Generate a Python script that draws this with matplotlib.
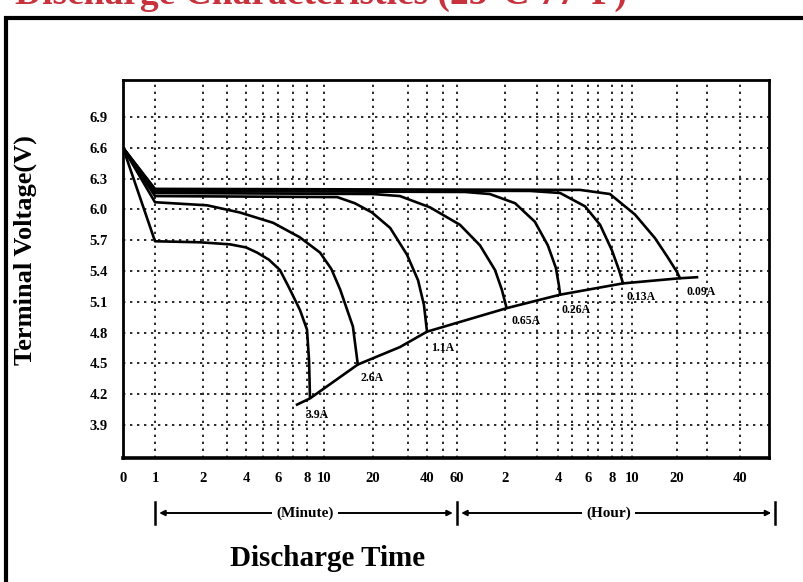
import numpy as np
import matplotlib
matplotlib.use('Agg')
import matplotlib.pyplot as plt
from matplotlib.patches import Rectangle
from matplotlib.transforms import blended_transform_factory

SERIF = 'Liberation Serif'

# hand-drawn time axis of the original: minutes -> position along the axis
scale_min = [0, 1, 2, 3, 4, 5, 6, 7, 8, 10, 20, 30, 40, 50, 60, 120, 180, 240,
             300, 360, 420, 480, 540, 600, 1200, 1800, 2400, 2900]
scale_pos = [0, 32, 80, 104, 123, 140, 155, 170, 184, 201, 250, 285, 304, 320,
             334, 382, 414, 435, 449, 465, 475, 489, 499, 509, 554, 584, 617, 646]

# tick labels (minutes first, then hours)
tick_min = [0, 1, 2, 4, 6, 8, 10, 20, 40, 60, 120, 240, 360, 480, 600, 1200, 2400]
tick_lbl = ['0', '1', '2', '4', '6', '8', '10', '20', '40', '60',
            '2', '4', '6', '8', '10', '20', '40']
grid_min = [1, 2, 3, 4, 5, 6, 7, 8, 10, 20, 30, 40, 50, 60, 120, 180, 240, 300,
            360, 420, 480, 540, 600, 1200, 1800, 2400]
volt_ticks = [3.9, 4.2, 4.5, 4.8, 5.1, 5.4, 5.7, 6.0, 6.3, 6.6, 6.9]

# discharge curves: time (min) / terminal voltage (V)
currents = ['3.9A', '2.6A', '1.1A', '0.65A', '0.26A', '0.13A', '0.09A']

t_39 = [0, 1, 1.94, 3.16, 4.0, 4.65, 5.4, 6.13, 6.8, 7.5, 8.0, 8.24, 8.35]
v_39 = [6.6, 5.69, 5.68, 5.66, 5.63, 5.58, 5.51, 5.41, 5.22, 5.02, 4.83, 4.53, 4.17]

t_26 = [0, 1, 2.17, 3.68, 5.67, 7.47, 9.53, 11.5, 13.3, 15.9, 16.9]
v_26 = [6.6, 6.07, 6.04, 5.97, 5.87, 5.73, 5.58, 5.42, 5.22, 4.86, 4.49]

t_11 = [0, 1, 12.7, 16.3, 19.8, 24.9, 29.7, 35.3, 38.4, 40]
v_11 = [6.6, 6.13, 6.12, 6.06, 5.97, 5.82, 5.56, 5.31, 5.07, 4.81]

t_065 = [0, 1, 20, 27.7, 41.9, 63.75, 88.75, 107.5, 116, 123]
v_065 = [6.6, 6.16, 6.15, 6.13, 6.02, 5.85, 5.65, 5.41, 5.22, 5.04]

t_026 = [0, 1, 70, 101, 139, 176, 211, 234, 244, 249]
v_026 = [6.6, 6.18, 6.17, 6.15, 6.06, 5.88, 5.65, 5.43, 5.26, 5.17]

t_013 = [0, 1, 167, 249, 349, 429, 480, 522, 546]
v_013 = [6.6, 6.19, 6.18, 6.16, 6.03, 5.85, 5.60, 5.41, 5.28]

t_009 = [0, 1, 330, 471, 640, 907, 1080, 1200, 1260]
v_009 = [6.6, 6.20, 6.19, 6.15, 5.95, 5.72, 5.53, 5.39, 5.33]

# end-of-discharge voltage line
t_end = [7.29, 8.35, 16.9, 27.7, 40, 124, 249, 546, 1260, 1600]
v_end = [4.10, 4.16, 4.49, 4.66, 4.81, 5.04, 5.17, 5.28, 5.33, 5.34]

curves = [(t_39, v_39), (t_26, v_26), (t_11, v_11), (t_065, v_065),
          (t_026, v_026), (t_013, v_013), (t_009, v_009)]
# label offsets from each curve end (pixels)
label_off = [(7, -18), (14, -13), (16, -16), (19, -13), (16, -15), (18, -14), (21, -14)]


def fwd(x):
    return np.interp(np.asarray(x, dtype=float), scale_min, scale_pos)


def inv(p):
    return np.interp(np.asarray(p, dtype=float), scale_pos, scale_min)


fig = plt.figure(figsize=(8.04, 5.82), dpi=100, facecolor='white')
ax = fig.add_axes([123 / 804, 1 - 458 / 582, 646 / 804, 378 / 582])
ax.set_xscale('function', functions=(fwd, inv))
ax.set_xlim(0, 2900)
ax.set_ylim(3.58, 7.26)

# grid
ax.xaxis.remove_overlapping_locs = False
ax.set_xticks(tick_min)
ax.set_xticklabels(tick_lbl)
ax.set_xticks(grid_min, minor=True)
ax.set_yticks(volt_ticks)
ax.set_yticklabels(['%.1f' % v for v in volt_ticks])
grid_style = dict(color='#2a2a2a', linestyle=(0, (1.2, 2.4)), linewidth=1.4)
ax.grid(True, which='minor', axis='x', **grid_style)
ax.grid(True, which='major', axis='y', **grid_style)
ax.tick_params(which='both', length=0)
ax.tick_params(axis='x', pad=10)
ax.tick_params(axis='y', pad=11)
for lab in ax.get_xticklabels() + ax.get_yticklabels():
    lab.set_fontfamily(SERIF)
    lab.set_fontweight('bold')
    lab.set_fontsize(10.5)
for sp in ax.spines.values():
    sp.set_linewidth(2.0)
    sp.set_color('black')
ax.spines['bottom'].set_linewidth(2.6)

# curves
for (t, v), name, off in zip(curves, currents, label_off):
    ax.plot(t, v, color='black', linewidth=1.9, solid_capstyle='round',
            solid_joinstyle='round')
    ax.annotate(name, xy=(t[-1], v[-1]), xytext=off, textcoords='offset pixels',
                ha='center', va='center', fontsize=8.5, fontweight='bold',
                family=SERIF)
ax.plot(t_end, v_end, color='black', linewidth=1.9, solid_joinstyle='round')

# y label
ax.set_ylabel('Terminal Voltage(V)', fontsize=19, fontweight='bold', family=SERIF)
ax.yaxis.set_label_coords(-0.133, 0.55)

# minute / hour range arrows below the axis
y_ar = -0.1455
trans = blended_transform_factory(ax.transData, ax.transAxes)
arrow = dict(arrowstyle='<|-|>', lw=1.4, color='black', shrinkA=3, shrinkB=3,
             mutation_scale=8)
ax.annotate('', xy=(60, y_ar), xycoords=('data', 'axes fraction'),
            xytext=(1, y_ar), textcoords=('data', 'axes fraction'),
            arrowprops=arrow, annotation_clip=False)
ax.annotate('', xy=(1.01, y_ar), xycoords='axes fraction',
            xytext=(60, y_ar), textcoords=('data', 'axes fraction'),
            arrowprops=arrow, annotation_clip=False)
for xb in [1, 60]:
    ax.plot([xb, xb], [y_ar - 0.029, y_ar + 0.029], color='black', lw=1.8,
            transform=trans, clip_on=False)
ax.plot([1.01, 1.01], [y_ar - 0.029, y_ar + 0.029], color='black', lw=1.8,
        transform=ax.transAxes, clip_on=False)
box = dict(facecolor='white', edgecolor='none', pad=3)
ax.text(0.282, y_ar, '(Minute)', transform=ax.transAxes, ha='center', va='center',
        fontsize=11, fontweight='bold', family=SERIF, bbox=box)
ax.text(0.752, y_ar, '(Hour)', transform=ax.transAxes, ha='center', va='center',
        fontsize=11, fontweight='bold', family=SERIF, bbox=box)

# x label
fig.text(328 / 804, 1 - 558 / 582, 'Discharge Time', ha='center', va='center',
         fontsize=21, fontweight='bold', family=SERIF)

# outer frame and the cut-off red heading of the scan
fig.add_artist(Rectangle((6 / 804, -0.1), 1.2, 1.1 - 18 / 582, fill=False,
                         edgecolor='black', linewidth=3, transform=fig.transFigure))
fig.text(15 / 804, 1 - 4 / 582, 'Discharge Characteristics (25°C 77°F)',
         color='#c8323c', fontsize=27, fontweight='bold', family=SERIF,
         ha='left', va='baseline')

fig.savefig('out.png', dpi=100, facecolor='white')
